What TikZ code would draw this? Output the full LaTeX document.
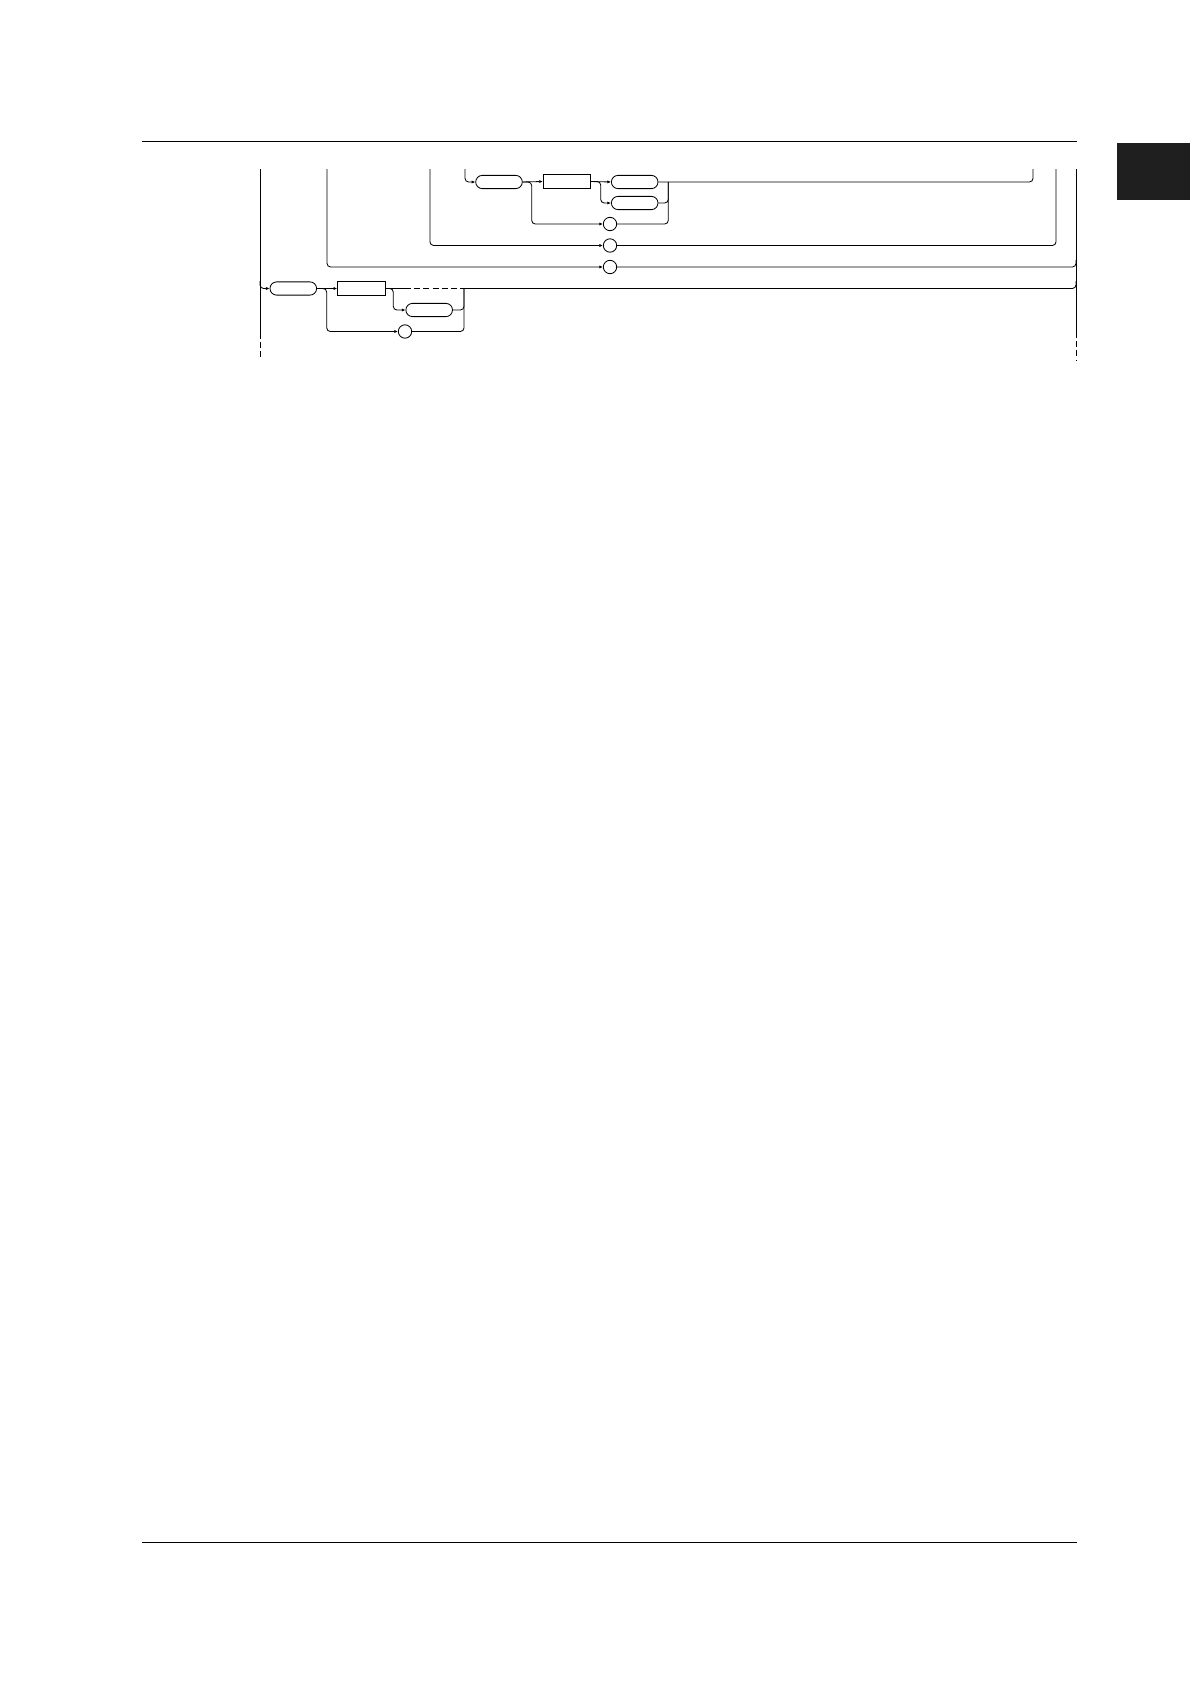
\documentclass[tikz,border=0pt]{standalone}
\usetikzlibrary{arrows.meta,positioning}
\tikzset{
  term/.style={draw,rounded corners=1.65mm,minimum width=11.65mm,minimum height=3.3mm,inner sep=0pt},
  nonterm/.style={draw,rectangle,minimum width=11.85mm,minimum height=3.5mm,inner sep=0pt},
  empt/.style={draw,circle,minimum size=3.35mm,inner sep=0pt},
  conn/.style={line width=0.6pt,rounded corners=0.9mm},
  into/.style={conn,-{Latex[length=0.9mm,width=0.8mm]}},
  gapline/.style={conn,dash pattern=on 1.5mm off 0.8mm},
  pagerule/.style={line width=0.9pt}
}
\begin{document}
\begin{tikzpicture}[x=0.25mm,y=-0.25mm,line width=0.6pt]
	\useasboundingbox (0,0) rectangle (1190,1684);
	% page rules and tab
	\draw[pagerule] (142,141.5) -- (1077,141.5);
	\draw[pagerule] (142,1542.5) -- (1077,1542.5);
	\fill[black!88] (1117,142.5) rectangle (1190,200);
	% elements
	\begin{scope}
		\node[term] (t1) at (499,182) {};
		\node[nonterm] (n1) at (567,181.5) {};
		\node[term] (t2) at (634.7,182) {};
		\node[term] (t3) at (634.7,203) {};
		\node[empt] (c1) at (610,224) {};
		\node[empt] (c2) at (610,245.5) {};
		\node[empt] (c3) at (610,267) {};
		\node[term] (t4) at (293.3,288.5) {};
		\node[nonterm] (n2) at (361.3,288.5) {};
		\node[term] (t5) at (429.2,310) {};
		\node[empt] (c4) at (405,331.5) {};
	\end{scope}
	% free ends and bends
	\coordinate (v0top) at (260,169);
	\coordinate (v0fork) at (260,281);
	\coordinate (v0end) at (260,333);
	\coordinate (v0bot) at (260,360);
	\coordinate (v1top) at (327,169);
	\coordinate (v2top) at (430,169);
	\coordinate (v3top) at (465,169);
	\coordinate (b1) at (531.7,203);
	\coordinate (b2) at (600.7,192);
	\coordinate (m1) at (668.3,182);
	\coordinate (r1top) at (1033,169);
	\coordinate (r4top) at (1056,169);
	\coordinate (v4top) at (1076,169);
	\coordinate (r5j) at (1076,260);
	\coordinate (r6j) at (1076,281);
	\coordinate (v4end) at (1076,332);
	\coordinate (v4bot) at (1076,360);
	\coordinate (b3) at (326.7,310);
	\coordinate (b4) at (393.3,299);
	\coordinate (d1) at (405,288.5);
	\coordinate (d2) at (460,288.5);
	\coordinate (m2) at (464,288.5);
	% verticals
	\draw[conn] (v0top) -- (v0end);
	\draw[gapline] (v0end) -- (v0bot);
	\draw[conn] (v4top) -- (v4end);
	\draw[gapline] (v4end) -- (v4bot);
	\draw[into] (v0fork) |- (t4.west);
	\draw[into] (v1top) |- (c3.west);
	\draw[into] (v2top) |- (c2.west);
	\draw[into] (v3top) |- (t1.west);
	% upper rows
	\draw[into] (t1.east) -- (n1.west);
	\draw[into] (t1.east) -| (b1) |- (c1.west);
	\draw[into] (n1.east) -- (t2.west);
	\draw[into] (n1.east) -| (b2) |- (t3.west);
	\draw[conn] (t3.east) -| (m1);
	\draw[conn] (c1.east) -| (m1);
	\draw[conn] (t2.east) -| (r1top);
	\draw[conn] (c2.east) -| (r4top);
	\draw[conn] (c3.east) -| (r5j);
	% lower rows
	\draw[into] (t4.east) -- (n2.west);
	\draw[into] (t4.east) -| (b3) |- (c4.west);
	\draw[into] (n2.east) -| (b4) |- (t5.west);
	\draw[conn] (n2.east) -- (d1);
	\draw[gapline] (d1) -- (d2);
	\draw[conn] (d2) -| (r6j);
	\draw[conn] (t5.east) -| (m2);
	\draw[conn] (c4.east) -| (m2);
\end{tikzpicture}
\end{document}
